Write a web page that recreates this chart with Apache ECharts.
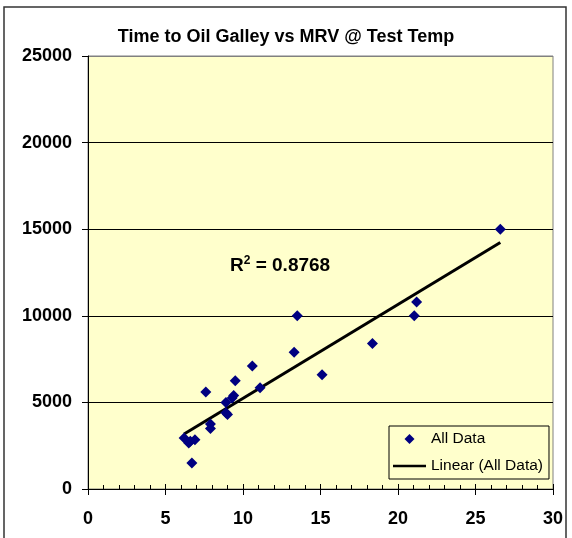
<!DOCTYPE html>
<html>
<head>
<meta charset="utf-8">
<script src="https://cdn.jsdelivr.net/npm/echarts@6/dist/echarts.min.js"></script>
<style>
  html, body { margin: 0; padding: 0; background: #fff; }
  #main { width: 572px; height: 538px; }
</style>
</head>
<body>
<div id="main"></div>
<script>
// MRV (x) vs time to oil galley (y)
const mrv = [26.6, 21.2, 21.05, 18.35, 13.5, 13.3, 15.1, 10.6, 9.5, 7.6, 9.4, 9.3, 11.1,
             8.9, 8.9, 9.0, 7.9, 7.9, 6.2, 6.5, 6.9, 6.6, 6.7];
const galleyTime = [15000, 10800, 10000, 8400, 10000, 7900, 6600, 7100, 6250, 5600, 5400, 5250, 5850,
                    5000, 4400, 4300, 3750, 3500, 2950, 2650, 2850, 2750, 1500];
const xTicks = [0, 5, 10, 15, 20, 25, 30];
const yTicks = [0, 5000, 10000, 15000, 20000, 25000];
const rSquared = '0.8768';

const chart = echarts.init(document.getElementById('main'));

const points = mrv.map((x, i) => [x, galleyTime[i]]);

// least squares fit, like the excel trendline
const n = mrv.length;
const mx = mrv.reduce((a, b) => a + b, 0) / n;
const my = galleyTime.reduce((a, b) => a + b, 0) / n;
let sxy = 0, sxx = 0;
mrv.forEach((x, i) => { sxy += (x - mx) * (galleyTime[i] - my); sxx += (x - mx) * (x - mx); });
const slope = sxy / sxx;
const icpt = my - slope * mx;
const xMin = Math.min(...mrv), xMax = Math.max(...mrv);
const trend = [[xMin, icpt + slope * xMin], [xMax, icpt + slope * xMax]];

const font = 'Arial, "Liberation Sans", sans-serif';

const option = {
  backgroundColor: '#fff',
  animation: false,
  title: {
    text: 'Time to Oil Galley vs MRV @ Test Temp',
    left: 'center',
    top: 23,
    textStyle: { fontFamily: font, fontSize: 18, fontWeight: 'bold', color: '#000' }
  },
  grid: {
    left: 88, right: 19, top: 56, bottom: 49,
    show: true,
    backgroundColor: '#FFFFCC',
    borderColor: '#808080',
    borderWidth: 1
  },
  legend: {
    orient: 'vertical',
    left: 389, top: 426,
    padding: [5, 6, 5, 4],
    itemWidth: 33, itemHeight: 13, itemGap: 11,
    backgroundColor: '#FFFFCC',
    borderColor: '#000', borderWidth: 1,
    textStyle: { fontFamily: font, fontSize: 15.5, color: '#000' },
    data: [
      { name: 'All Data', icon: 'path://M0,0 M33,13 M16.5,1.5 L21.5,6.5 L16.5,11.5 L11.5,6.5 Z' },
      { name: 'Linear (All Data)', icon: 'path://M0,0 M33,13 M0,5.25 L33,5.25 L33,7.75 L0,7.75 Z' }
    ]
  },
  xAxis: [
    {
      type: 'value',
      min: xTicks[0], max: xTicks[xTicks.length - 1], interval: 5,
      axisLine: { show: true, onZero: false, lineStyle: { color: '#000', width: 1 } },
      axisTick: { show: true, inside: true, length: 5, lineStyle: { color: '#000' } },
      minorTick: { show: true, splitNumber: 5, length: 4, lineStyle: { color: '#000' } },
      splitLine: { show: false },
      axisLabel: { margin: 21, fontFamily: font, fontSize: 18, fontWeight: 'bold', color: '#000' }
    },
    {
      // second copy only for the ticks that stick out below the axis
      type: 'value', position: 'bottom', gridIndex: 0,
      min: xTicks[0], max: xTicks[xTicks.length - 1], interval: 5,
      axisLine: { show: false },
      axisTick: { show: true, inside: false, length: 6, lineStyle: { color: '#000' } },
      splitLine: { show: false },
      axisLabel: { show: false }
    }
  ],
  yAxis: {
    type: 'value',
    min: yTicks[0], max: yTicks[yTicks.length - 1], interval: 5000,
    axisLine: { show: true, onZero: false, lineStyle: { color: '#000', width: 1 } },
    axisTick: { show: true, length: 6, lineStyle: { color: '#000' } },
    splitLine: { show: true, lineStyle: { color: ['#000', '#000', '#000', '#000', '#000', '#808080'], width: 1 } },
    axisLabel: {
      margin: 16, fontFamily: font, fontSize: 18, fontWeight: 'bold', color: '#000',
      formatter: v => String(v)
    }
  },
  graphic: [
    {
      type: 'rect',
      shape: { x: 4, y: 7, width: 562, height: 540 },
      style: { fill: null, stroke: '#333', lineWidth: 1.5 },
      silent: true, z: 100
    },
    {
      type: 'text',
      left: 230, top: 255,
      style: {
        text: '{b|R}{s|2}{b| = ' + rSquared + '}',
        rich: {
          b: { fontFamily: font, fontSize: 19, fontWeight: 'bold', fill: '#000', lineHeight: 24 },
          s: { fontFamily: font, fontSize: 12, fontWeight: 'bold', fill: '#000', padding: [0, 0, 10, 0] }
        }
      },
      z: 50
    }
  ],
  series: [
    {
      name: 'All Data',
      type: 'scatter',
      symbol: 'diamond',
      symbolSize: 11,
      itemStyle: { color: '#000080', opacity: 1 },
      data: points,
      z: 3
    },
    {
      name: 'Linear (All Data)',
      type: 'line',
      symbol: 'none',
      lineStyle: { color: '#000', width: 3 },
      itemStyle: { color: '#000' },
      data: trend,
      z: 2
    }
  ]
};

chart.setOption(option);
</script>
</body>
</html>
